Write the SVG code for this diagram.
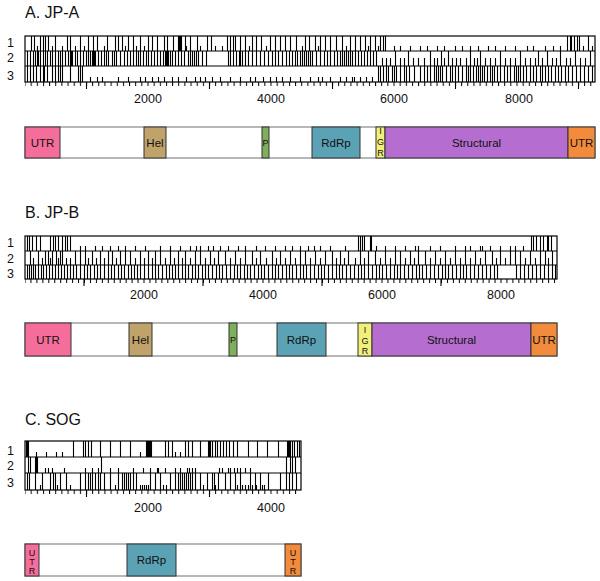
<svg xmlns="http://www.w3.org/2000/svg" width="600" height="581" viewBox="0 0 600 581">
<defs>
<style>
text{font-family:"Liberation Sans",Arial,sans-serif;fill:#111}
.t{font-size:16px}
.ax{font-size:12.5px;text-anchor:middle}
.rl{font-size:12.5px}
.g{font-size:11.5px;text-anchor:middle}
.s{font-size:9px;text-anchor:middle}
.ln{stroke:#000;stroke-width:1.1;fill:none}
.box{fill:none;stroke:#000;stroke-width:1.2}
.seg{stroke:#333;stroke-width:1}
.outline{fill:#fff;stroke:#888;stroke-width:1.2}
</style>
<pattern id="tA" patternUnits="userSpaceOnUse" x="24.5" y="0" width="6.15" height="10"><rect x="0" y="0" width="1" height="10" fill="#000"/></pattern>
<pattern id="tB" patternUnits="userSpaceOnUse" x="24.5" y="0" width="5.95" height="10"><rect x="0" y="0" width="1" height="10" fill="#000"/></pattern>
</defs>
<rect width="600" height="581" fill="#fff"/>

<g id="panelA">
<text class="t" x="25" y="18">A. JP-A</text>
<text class="rl" x="7" y="47">1</text>
<text class="rl" x="7" y="62">2</text>
<text class="rl" x="7" y="80">3</text>
<g id="tracksA" class="ln" transform="translate(0.5,0)">
<path d="M31 36v15M34 36v15M40 36v15M43 36v15M45 36v15M48 36v15M55 36v15M67 36v15M70 36v15M80 36v15M88 36v15M93 36v15M97 36v15M107 36v15M115 36v15M118 36v15M122 36v15M128 36v15M133 36v15M140 36v15M148 36v15M152 36v15M157 36v15M164 36v15M167 36v15M173 36v15M178 36v15M179 36v15M180 36v15M181 36v15M185 36v15M190 36v15M197 36v15M207 36v15M211 36v15M227 36v15M230 36v15M233 36v15M235 36v15M240 36v15M245 36v15M252 36v15M256 36v15M261 36v15M270 36v15M275 36v15M280 36v15M285 36v15M290 36v15M296 36v15M305 36v15M309 36v15M315 36v15M320 36v15M325 36v15M330 36v15M336 36v15M342 36v15M350 36v15M355 36v15M360 36v15M365 36v15M370 36v15M375 36v15M380 36v15M383 36v15M385 36v15M567 36v15M570 36v15M571 36v15M574 36v15M577 36v15M579 36v15M588 36v15"/>
<path d="M37 46v5M52 46v5M62 46v5M75 46v5M84 46v5M104 46v5M125 46v5M136 46v5M144 46v5M186 46v5M200 46v5M215 46v5M222 46v5M249 46v5M266 46v5M302 46v5M318 46v5M346 46v5M368 46v5M378 46v5M394 46v5M400 46v5M410 46v5M420 46v5M427 46v5M437 46v5M444 46v5M455 46v5M462 46v5M470 46v5M478 46v5M488 46v5M495 46v5M505 46v5M515 46v5M527 46v5M533 46v5M545 46v5M553 46v5M560 46v5M583 46v5M592 46v5"/>
<path d="M27 51v15M30 51v15M33 51v15M35 51v15M37 51v15M38 51v15M40 51v15M43 51v15M45 51v15M47 51v15M50 51v15M52 51v15M55 51v15M58 51v15M60 51v15M62 51v15M65 51v15M68 51v15M70 51v15M71 51v15M72 51v15M75 51v15M77 51v15M80 51v15M83 51v15M86 51v15M88 51v15M90 51v15M92 51v15M93 51v15M94 51v15M95 51v15M98 51v15M101 51v15M104 51v15M106 51v15M108 51v15M112 51v15M114 51v15M116 51v15M120 51v15M124 51v15M127 51v15M130 51v15M133 51v15M136 51v15M138 51v15M140 51v15M143 51v15M146 51v15M148 51v15M151 51v15M154 51v15M157 51v15M160 51v15M163 51v15M165 51v15M166 51v15M167 51v15M168 51v15M170 51v15M172 51v15M175 51v15M178 51v15M181 51v15M184 51v15M188 51v15M190 51v15M192 51v15M194 51v15M196 51v15M198 51v15M202 51v15M206 51v15M228 51v15M230 51v15M233 51v15M236 51v15M239 51v15M240 51v15M242 51v15M245 51v15M248 51v15M252 51v15M256 51v15M260 51v15M264 51v15M268 51v15M272 51v15M275 51v15M278 51v15M282 51v15M286 51v15M289 51v15M292 51v15M295 51v15M297 51v15M300 51v15M302 51v15M304 51v15M306 51v15M308 51v15M310 51v15M312 51v15M316 51v15M320 51v15M324 51v15M327 51v15M330 51v15M334 51v15M337 51v15M340 51v15M342 51v15M344 51v15M346 51v15M348 51v15M350 51v15M352 51v15M355 51v15M358 51v15M361 51v15M364 51v15M367 51v15M370 51v15M373 51v15M376 51v15M395 51v15M408 51v15M430 51v15M441 51v15M448 51v15M470 51v15M480 51v15M500 51v15M520 51v15M538 51v15M547 51v15M560 51v15M575 51v15M590 51v15"/>
<path d="M382 58v8M386 58v8M390 58v8M400 58v8M404 58v8M413 58v8M418 58v8M424 58v8M434 58v8M437 58v8M444 58v8M452 58v8M456 58v8M460 58v8M466 58v8M474 58v8M477 58v8M485 58v8M490 58v8M495 58v8M505 58v8M510 58v8M515 58v8M525 58v8M530 58v8M535 58v8M542 58v8M552 58v8M556 58v8M566 58v8M570 58v8M580 58v8M585 58v8"/>
<path d="M27 66v16M30 66v16M33 66v16M36 66v16M40 66v16M43 66v16M44 66v16M47 66v16M52 66v16M55 66v16M58 66v16M60 66v16M62 66v16M70 66v16M78 66v16M80 66v16M82 66v16M378 66v16M380 66v16M383 66v16M386 66v16M388 66v16M392 66v16M394 66v16M396 66v16M400 66v16M404 66v16M406 66v16M409 66v16M414 66v16M420 66v16M424 66v16M427 66v16M430 66v16M434 66v16M436 66v16M438 66v16M440 66v16M442 66v16M446 66v16M450 66v16M452 66v16M455 66v16M458 66v16M462 66v16M466 66v16M468 66v16M470 66v16M473 66v16M476 66v16M478 66v16M480 66v16M482 66v16M484 66v16M487 66v16M490 66v16M492 66v16M494 66v16M497 66v16M500 66v16M504 66v16M507 66v16M510 66v16M514 66v16M516 66v16M518 66v16M520 66v16M523 66v16M526 66v16M530 66v16M533 66v16M536 66v16M540 66v16M542 66v16M545 66v16M548 66v16M551 66v16M555 66v16M558 66v16M561 66v16M565 66v16M568 66v16M572 66v16M576 66v16M580 66v16M584 66v16M588 66v16M592 66v16"/>
<path d="M90 77v5M97 77v5M102 77v5M118 77v5M128 77v5M140 77v5M145 77v5M152 77v5M158 77v5M164 77v5M172 77v5M178 77v5M186 77v5M195 77v5M200 77v5M205 77v5M212 77v5M220 77v5M230 77v5M240 77v5M250 77v5M255 77v5M263 77v5M270 77v5M276 77v5M282 77v5M290 77v5M300 77v5M310 77v5M318 77v5M322 77v5M330 77v5M340 77v5M346 77v5M352 77v5M354 77v5M360 77v5M366 77v5M372 77v5"/>
</g>
<rect class="box" x="25" y="36" width="570" height="46"/>
<path class="ln" d="M25 51H595M25 66H595"/>
<rect x="25" y="82" width="570" height="4" fill="url(#tA)"/>
<path class="ln" d="M86.5 82v7M209.5 82v7M332.5 82v7M455.5 82v7M578.5 82v7"/>
<text class="ax" x="148" y="103">2000</text>
<text class="ax" x="271" y="103">4000</text>
<text class="ax" x="394" y="103">6000</text>
<text class="ax" x="519" y="103">8000</text>
</g>

<g id="genomeA">
<rect class="outline" x="25" y="127" width="570" height="31"/>
<rect class="seg" x="25" y="127" width="35" height="31" fill="#F56E9B"/>
<rect class="seg" x="144" y="127" width="22" height="31" fill="#BFA36B"/>
<rect class="seg" x="262" y="127" width="7" height="31" fill="#7EAF5B"/>
<rect class="seg" x="312" y="127" width="48" height="31" fill="#5AA2B4"/>
<rect class="seg" x="376" y="127" width="9" height="31" fill="#F2F07A"/>
<rect class="seg" x="385" y="127" width="183" height="31" fill="#B56ECF"/>
<rect class="seg" x="568" y="127" width="27" height="31" fill="#F28B3B"/>
<text class="g" x="42.5" y="146.5">UTR</text>
<text class="g" x="155" y="146.5">Hel</text>
<text class="s" x="265.5" y="145.5">P</text>
<text class="g" x="336" y="146.5">RdRp</text>
<text class="s" x="380.5" y="134">I</text>
<text class="s" x="380.5" y="144.5">G</text>
<text class="s" x="380.5" y="155.5">R</text>
<text class="g" x="476.5" y="146.5">Structural</text>
<text class="g" x="581.5" y="146.5">UTR</text>
</g>

<g id="panelB">
<text class="t" x="25" y="218">B. JP-B</text>
<text class="rl" x="7" y="247">1</text>
<text class="rl" x="7" y="263">2</text>
<text class="rl" x="7" y="278">3</text>
<g id="tracksB" class="ln" transform="translate(0.5,0)">
<path d="M27 236v15M29 236v15M32 236v15M36 236v15M40 236v15M50 236v15M53 236v15M55 236v15M58 236v15M62 236v15M65 236v15M67 236v15M70 236v15M358 236v15M360 236v15M362 236v15M364 236v15M370 236v15M371 236v15M531 236v15M533 236v15M536 236v15M540 236v15M543 236v15M547 236v15M548 236v15M551 236v15"/>
<path d="M80 246v5M85 246v5M95 246v5M102 246v5M110 246v5M118 246v5M125 246v5M135 246v5M145 246v5M160 246v5M170 246v5M180 246v5M190 246v5M196 246v5M200 246v5M208 246v5M213 246v5M220 246v5M228 246v5M238 246v5M245 246v5M256 246v5M265 246v5M275 246v5M285 246v5M292 246v5M300 246v5M308 246v5M314 246v5M320 246v5M330 246v5M345 246v5M376 246v5M385 246v5M395 246v5M405 246v5M415 246v5M418 246v5M430 246v5M440 246v5M455 246v5M465 246v5M470 246v5M480 246v5M482 246v5M490 246v5M500 246v5M510 246v5M515 246v5M523 246v5"/>
<path d="M30 251v14M38 251v14M45 251v14M48 251v14M52 251v14M56 251v14M60 251v14M62 251v14M75 251v14M80 251v14M85 251v14M92 251v14M100 251v14M108 251v14M112 251v14M120 251v14M125 251v14M130 251v14M140 251v14M148 251v14M155 251v14M160 251v14M170 251v14M178 251v14M185 251v14M195 251v14M200 251v14M210 251v14M218 251v14M225 251v14M235 251v14M245 251v14M252 251v14M260 251v14M272 251v14M280 251v14M290 251v14M300 251v14M305 251v14M315 251v14M325 251v14M332 251v14M340 251v14M348 251v14M360 251v14M368 251v14M375 251v14M385 251v14M395 251v14M400 251v14M410 251v14M418 251v14M425 251v14M435 251v14M445 251v14M455 251v14M465 251v14M475 251v14M485 251v14M492 251v14M500 251v14M510 251v14M515 251v14M520 251v14M530 251v14M540 251v14M545 251v14M552 251v14"/>
<path d="M33 258v7M42 258v7M50 258v7M58 258v7M66 258v7M70 258v7M88 258v7M96 258v7M104 258v7M116 258v7M135 258v7M144 258v7M152 258v7M165 258v7M174 258v7M182 258v7M190 258v7M205 258v7M214 258v7M230 258v7M240 258v7M256 258v7M266 258v7M276 258v7M285 258v7M295 258v7M310 258v7M320 258v7M336 258v7M344 258v7M355 258v7M364 258v7M380 258v7M390 258v7M405 258v7M414 258v7M430 258v7M440 258v7M450 258v7M460 258v7M470 258v7M480 258v7M496 258v7M505 258v7M525 258v7M535 258v7M548 258v7"/>
<path d="M27 265v14M29 265v14M31 265v14M33 265v14M35 265v14M38 265v14M41 265v14M43 265v14M46 265v14M49 265v14M52 265v14M55 265v14M58 265v14M61 265v14M64 265v14M67 265v14M70 265v14M73 265v14M76 265v14M80 265v14M84 265v14M87 265v14M90 265v14M94 265v14M97 265v14M100 265v14M104 265v14M108 265v14M111 265v14M114 265v14M118 265v14M121 265v14M124 265v14M128 265v14M131 265v14M134 265v14M137 265v14M140 265v14M144 265v14M148 265v14M152 265v14M155 265v14M158 265v14M162 265v14M166 265v14M169 265v14M172 265v14M175 265v14M178 265v14M182 265v14M185 265v14M188 265v14M192 265v14M195 265v14M198 265v14M202 265v14M205 265v14M208 265v14M212 265v14M216 265v14M219 265v14M222 265v14M226 265v14M230 265v14M234 265v14M237 265v14M240 265v14M244 265v14M247 265v14M250 265v14M254 265v14M258 265v14M261 265v14M264 265v14M268 265v14M272 265v14M275 265v14M278 265v14M282 265v14M286 265v14M289 265v14M292 265v14M296 265v14M300 265v14M303 265v14M306 265v14M310 265v14M314 265v14M318 265v14M321 265v14M324 265v14M328 265v14M332 265v14M336 265v14M339 265v14M342 265v14M346 265v14M350 265v14M354 265v14M358 265v14M361 265v14M364 265v14M368 265v14M372 265v14M376 265v14M379 265v14M382 265v14M386 265v14M390 265v14M394 265v14M397 265v14M400 265v14M404 265v14M408 265v14M412 265v14M416 265v14M419 265v14M422 265v14M426 265v14M430 265v14M434 265v14M438 265v14M442 265v14M445 265v14M448 265v14M452 265v14M456 265v14M460 265v14M463 265v14M466 265v14M470 265v14M474 265v14M478 265v14M482 265v14M486 265v14M490 265v14M494 265v14M497 265v14M516 265v14M520 265v14M524 265v14M528 265v14M532 265v14M536 265v14M540 265v14M544 265v14M548 265v14M552 265v14M555 265v14"/>
</g>
<rect class="box" x="25" y="236" width="532" height="43"/>
<path class="ln" d="M25 251H557M25 265H557"/>
<rect x="25" y="279" width="532" height="4" fill="url(#tB)"/>
<path class="ln" d="M84 279v7M203 279v7M322 279v7M441 279v7"/>
<text class="ax" x="144" y="299">2000</text>
<text class="ax" x="263" y="299">4000</text>
<text class="ax" x="382" y="299">6000</text>
<text class="ax" x="501" y="299">8000</text>
</g>

<g id="genomeB">
<rect class="outline" x="25" y="323" width="532" height="33"/>
<rect class="seg" x="25" y="323" width="46" height="33" fill="#F56E9B"/>
<rect class="seg" x="129" y="323" width="23" height="33" fill="#BFA36B"/>
<rect class="seg" x="229" y="323" width="8" height="33" fill="#7EAF5B"/>
<rect class="seg" x="277" y="323" width="49" height="33" fill="#5AA2B4"/>
<rect class="seg" x="358" y="323" width="14" height="33" fill="#F2F07A"/>
<rect class="seg" x="372" y="323" width="159" height="33" fill="#B56ECF"/>
<rect class="seg" x="531" y="323" width="26" height="33" fill="#F28B3B"/>
<text class="g" x="48" y="343.5">UTR</text>
<text class="g" x="140.5" y="343.5">Hel</text>
<text class="s" x="233" y="343">P</text>
<text class="g" x="301.5" y="343.5">RdRp</text>
<text class="s" x="365" y="332.5">I</text>
<text class="s" x="365" y="343.5">G</text>
<text class="s" x="365" y="354">R</text>
<text class="g" x="451.5" y="343.5">Structural</text>
<text class="g" x="544" y="343.5">UTR</text>
</g>

<g id="panelC">
<text class="t" x="25" y="425">C. SOG</text>
<text class="rl" x="7" y="455">1</text>
<text class="rl" x="7" y="470">2</text>
<text class="rl" x="7" y="487">3</text>
<g id="tracksC" class="ln" transform="translate(0.5,0)">
<path d="M26 441v16M27 441v16M28 441v16M73 441v16M83 441v16M85 441v16M88 441v16M91 441v16M100 441v16M110 441v16M120 441v16M130 441v16M146 441v16M147 441v16M148 441v16M149 441v16M150 441v16M151 441v16M165 441v16M168 441v16M172 441v16M185 441v16M188 441v16M192 441v16M200 441v16M208 441v16M209 441v16M210 441v16M212 441v16M215 441v16M217 441v16M220 441v16M223 441v16M226 441v16M229 441v16M233 441v16M237 441v16M248 441v16M257 441v16M267 441v16M278 441v16M287 441v16M288 441v16M289 441v16M290 441v16M292 441v16M294 441v16M297 441v16M299 441v16"/>
<path d="M36 452v5M46 452v5M56 452v5M62 452v5M140 452v5M175 452v5M180 452v5"/>
<path d="M28 457v16M30 457v16M35 457v16M36 457v16M37 457v16M101 457v16M286 457v16M290 457v16M292 457v16M295 457v16"/>
<path d="M45 468v5M48 468v5M52 468v5M64 468v5M85 468v5M92 468v5M98 468v5M110 468v5M118 468v5M133 468v5M143 468v5M150 468v5M157 468v5M158 468v5M165 468v5M175 468v5M180 468v5M187 468v5M189 468v5M192 468v5M195 468v5M219 468v5M222 468v5M228 468v5M230 468v5M234 468v5M237 468v5M240 468v5M245 468v5M250 468v5"/>
<path d="M27 473v17M29 473v17M35 473v17M42 473v17M50 473v17M53 473v17M55 473v17M60 473v17M66 473v17M80 473v17M85 473v17M88 473v17M90 473v17M92 473v17M95 473v17M98 473v17M100 473v17M104 473v17M110 473v17M118 473v17M122 473v17M124 473v17M126 473v17M128 473v17M130 473v17M133 473v17M136 473v17M150 473v17M155 473v17M160 473v17M170 473v17M175 473v17M178 473v17M180 473v17M182 473v17M184 473v17M186 473v17M188 473v17M190 473v17M192 473v17M195 473v17M200 473v17M207 473v17M212 473v17M214 473v17M218 473v17M225 473v17M230 473v17M235 473v17M240 473v17M250 473v17M255 473v17M260 473v17M268 473v17M280 473v17M286 473v17M289 473v17M292 473v17M296 473v17"/>
<path d="M40 485v5M57 485v5M70 485v5M115 485v5M140 485v5M142 485v5M144 485v5M146 485v5M148 485v5M163 485v5M166 485v5M203 485v5M215 485v5M237 485v5M242 485v5M245 485v5M248 485v5M252 485v5M256 485v5M262 485v5M264 485v5"/>
</g>
<rect class="box" x="25" y="441" width="276" height="49"/>
<path class="ln" d="M25 457H301M25 473H301"/>
<rect x="25" y="490" width="276" height="4" fill="url(#tA)"/>
<path class="ln" d="M86.5 490v7M209.5 490v7"/>
<text class="ax" x="148" y="512">2000</text>
<text class="ax" x="271" y="512">4000</text>
</g>

<g id="genomeC">
<rect class="outline" x="25" y="544" width="276" height="32"/>
<rect class="seg" x="25" y="544" width="14" height="32" fill="#F56E9B"/>
<rect class="seg" x="127" y="544" width="49" height="32" fill="#5AA2B4"/>
<rect class="seg" x="285" y="544" width="16" height="32" fill="#F28B3B"/>
<text class="s" x="32" y="555.5">U</text>
<text class="s" x="32" y="564.5">T</text>
<text class="s" x="32" y="573.5">R</text>
<text class="g" x="151.5" y="564">RdRp</text>
<text class="s" x="293" y="555.5">U</text>
<text class="s" x="293" y="564.5">T</text>
<text class="s" x="293" y="573.5">R</text>
</g>
</svg>
